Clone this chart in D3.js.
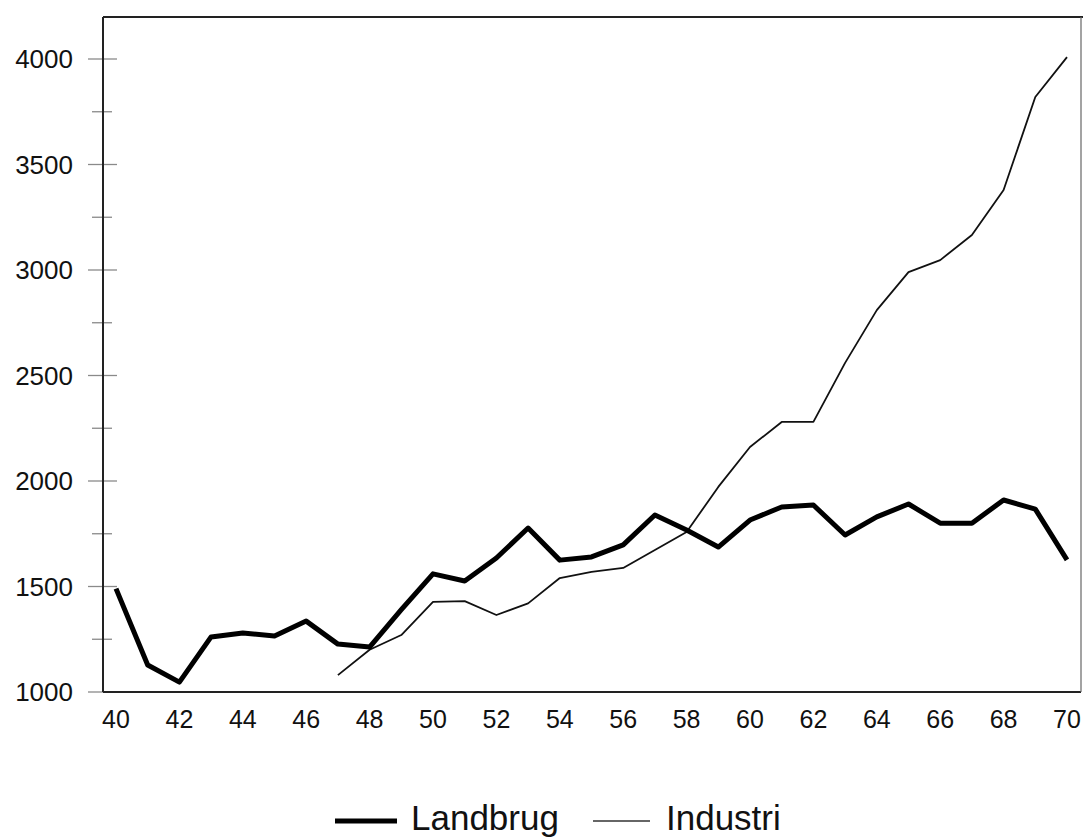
<!DOCTYPE html>
<html>
<head>
<meta charset="utf-8">
<script src="https://cdn.jsdelivr.net/npm/d3@7/dist/d3.min.js"></script>
<style>
  html, body { margin: 0; padding: 0; background: #fff; }
  svg { display: block; }
  text { font-family: "Liberation Sans", Arial, sans-serif; fill: #111; }
</style>
</head>
<body>
<svg id="chart" width="1083" height="837"></svg>
<script>
// ---- data ----
const landbrugYears = d3.range(40, 71);
const landbrugValues = [1490,1128,1047,1261,1280,1265,1336,1227,1213,1390,1560,1526,1635,1777,1625,1640,1697,1839,1768,1687,1815,1877,1886,1744,1830,1891,1800,1800,1910,1867,1626];
const industriYears = d3.range(47, 71);
const industriValues = [1080,1200,1270,1427,1431,1365,1420,1540,1569,1588,1673,1758,1972,2161,2280,2280,2560,2810,2990,3047,3166,3379,3820,4009];
const xTickLabels = [40,42,44,46,48,50,52,54,56,58,60,62,64,66,68,70];
const yTickLabels = [1000,1500,2000,2500,3000,3500,4000];
const yMinorTicks = [1250,1750,2250,2750,3250,3750];
const seriesNames = ["Landbrug", "Industri"];

// ---- layout ----
const svg = d3.select("#chart");
const frame = { left: 103, top: 17, right: 1081, bottom: 692 };
const x = d3.scaleLinear().domain([40, 70]).range([116, 1067]);
const y = d3.scaleLinear().domain([1000, 4000]).range([692, 59]);

// y ticks (grey, crossing the axis)
const yAxis = svg.append("g");
yAxis.selectAll("line.major").data(yTickLabels).join("line")
  .attr("class", "major")
  .attr("x1", 88).attr("x2", 117)
  .attr("y1", d => y(d)).attr("y2", d => y(d))
  .attr("stroke", "#8a8a8a").attr("stroke-width", 1.3);
yAxis.selectAll("line.minor").data(yMinorTicks).join("line")
  .attr("class", "minor")
  .attr("x1", 92).attr("x2", 112)
  .attr("y1", d => y(d)).attr("y2", d => y(d))
  .attr("stroke", "#8a8a8a").attr("stroke-width", 1.3);
yAxis.selectAll("text").data(yTickLabels).join("text")
  .attr("x", 73).attr("y", d => y(d))
  .attr("dy", "0.36em")
  .attr("text-anchor", "end")
  .style("font-size", "26px")
  .text(d => d);

// x labels
svg.append("g").selectAll("text").data(xTickLabels).join("text")
  .attr("x", d => x(d)).attr("y", 728)
  .attr("text-anchor", "middle")
  .style("font-size", "25px")
  .text(d => d);

// frame
svg.append("line").attr("x1", frame.left).attr("x2", frame.left)
  .attr("y1", frame.top).attr("y2", frame.bottom)
  .attr("stroke", "#222").attr("stroke-width", 2);
svg.append("line").attr("x1", frame.left).attr("x2", 1083)
  .attr("y1", frame.top).attr("y2", frame.top)
  .attr("stroke", "#222").attr("stroke-width", 2);
svg.append("line").attr("x1", frame.left).attr("x2", frame.right)
  .attr("y1", frame.bottom).attr("y2", frame.bottom)
  .attr("stroke", "#222").attr("stroke-width", 2);
svg.append("line").attr("x1", frame.right).attr("x2", frame.right)
  .attr("y1", frame.top).attr("y2", frame.bottom)
  .attr("stroke", "#666").attr("stroke-width", 1.2);

// lines
const line = d3.line().x(d => x(d[0])).y(d => y(d[1]));
svg.append("path")
  .datum(industriYears.map((yr, i) => [yr, industriValues[i]]))
  .attr("d", line)
  .attr("fill", "none").attr("stroke", "#111").attr("stroke-width", 1.8)
  .attr("stroke-linejoin", "round");
svg.append("path")
  .datum(landbrugYears.map((yr, i) => [yr, landbrugValues[i]]))
  .attr("d", line)
  .attr("fill", "none").attr("stroke", "#000").attr("stroke-width", 5)
  .attr("stroke-linejoin", "round");

// legend
const lg = svg.append("g");
lg.append("line").attr("x1", 335).attr("x2", 397).attr("y1", 821).attr("y2", 821)
  .attr("stroke", "#000").attr("stroke-width", 5);
lg.append("text").attr("x", 411).attr("y", 830).style("font-size", "35px").text(seriesNames[0]);
lg.append("line").attr("x1", 593).attr("x2", 650).attr("y1", 821).attr("y2", 821)
  .attr("stroke", "#333").attr("stroke-width", 1.5);
lg.append("text").attr("x", 666).attr("y", 830).style("font-size", "35px").text(seriesNames[1]);
</script>
</body>
</html>
